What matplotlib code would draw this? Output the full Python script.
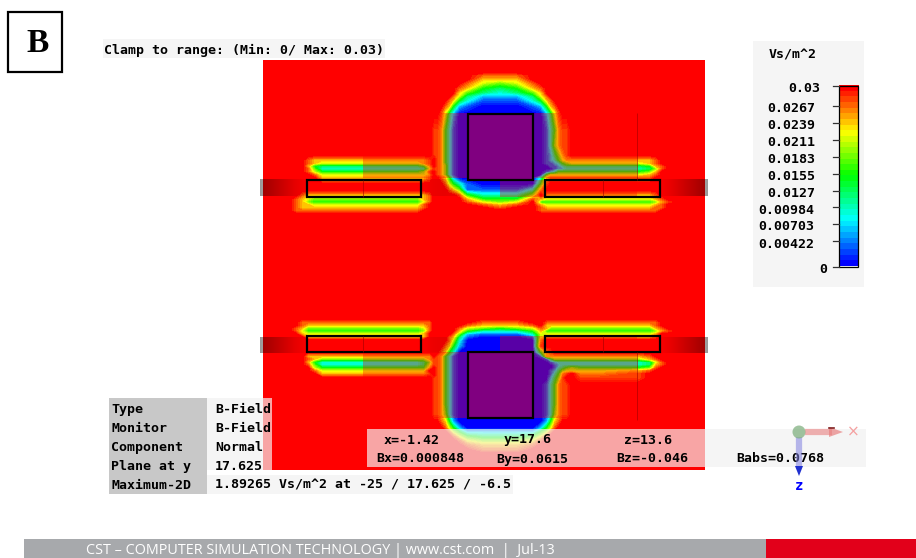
import numpy as np
import matplotlib
matplotlib.use('Agg')
import matplotlib.pyplot as plt
from matplotlib.colors import LinearSegmentedColormap
from matplotlib.patches import Rectangle, Circle, Polygon

MONO = 'DejaVu Sans Mono'

# Field samples, one hex digit per point (a = 0.03 clamp, 0 = 0)
field_x = [290, 296, 302, 308, 314, 322, 363, 405, 418, 424, 430, 434,
           437, 441, 445, 449, 453, 459, 467, 483, 500, 517, 533, 541, 547, 551, 555, 559, 563, 567, 572,
           580, 600, 637, 650, 656, 662, 668, 680]
field_y = [60, 72, 75, 79, 83, 88, 92, 96, 100, 106, 114, 130, 145, 155, 160, 163, 166, 169, 172, 175,
           178, 184, 190, 195, 199, 202, 205, 208, 211, 214, 265,
           318, 322, 325, 328, 331, 334, 337, 340, 346, 352, 356, 359, 362, 365, 368, 371, 374, 378,
           385, 395, 405, 415, 422, 428, 432, 436, 440, 445, 450, 454, 470]
field_rows = [
    'aaaaaaaaaaaa aaaaaaaaaaaaaaaaaaa aaaaaaaa',
    'aaaaaaaaaaaa aaaaaaaaaaaaaaaaaaa aaaaaaaa',
    'aaaaaaaaaaaa aaaaaaa999aaaaaaaaa aaaaaaaa',
    'aaaaaaaaaaaa aaaaaaa888aaaaaaaaa aaaaaaaa',
    'aaaaaaaaaaaa aaaaaa97679aaaaaaaa aaaaaaaa',
    'aaaaaaaaaaaa aaaaa9854589aaaaaaa aaaaaaaa',
    'aaaaaaaaaaaa aaaaa8643468aaaaaaa aaaaaaaa',
    'aaaaaaaaaaaa aaaa974222479aaaaaa aaaaaaaa',
    'aaaaaaaaaaaa aaa98531113589aaaaa aaaaaaaa',
    'aaaaaaaaaaaa aa9852100012589aaaa aaaaaaaa',
    'aaaaaaaaaaaa a974200000002479aaa aaaaaaaa',
    'aaaaaaaaaaa9 98531 0000000 135899a aaaaaaaa',
    'aaaaaaaaaaa9 98531 0000000 136899a aaaaaaaa',
    'aaaaaaaaaaa9 98531 0000000 124689a aaaaaaaa',
    'aaa98888889a 98531 0000000 1235788 88889aaa',
    'aaa98777789a 98531 0000000 1123567 77789aaa',
    'aaa85444458a 98631 0000000 0112344 444589aa',
    'aaa963333379 98631 0000000 0012233 333469aa',
    'aaa97555569a 98631 0000000 1235555 55568aaa',
    'aaaa9777778a 98631 0000000 5777777 77789aaa',
    'aaaaa888889a a9852 000000 38999999 9999aaaa',
    'aaaaaaaaaaaa aa975310000 59aaaaaa aaaaaaaa',
    'aaaaaaaaaaaa aaa98611113 8aaaaaaa aaaaaaaa',
    'aa98888888 9a aaaaa953336 a8888888 88889aaa',
    'a98766666 89a aaaaaa85559 87777777 777789aa',
    'a98655555 79a aaaaaa9767a 55555555 5555689a',
    'a98877777 9aa aaaaaaa989a 87777777 777789aa',
    'a98888888 9aa aaaaaaaa9aa 98888888 888899aa',
    'a99999999aaa aaaaaaaaaaa 99999999 99999aaa',
    'aaaaaaaaaaaa aaaaaaaaaaaaaaaaaaa aaaaaaaa',
    'aaaaaaaaaaaa aaaaaaaaaaaaaaaaaaa aaaaaaaa',
    'aaaaaaaaaaaa aaaaaaaaaaaaaaaaaaa aaaaaaaa',
    'aa999999999a aaaaaaa999aa9999999 99999aaa',
    'aa98888888 9a aaaaaa98889a8888888 88889aaa',
    'a98666666 79a aaaaa97656798666666 666689aa',
    'a97555555 69a aaaaa85333585555555 5555689a',
    'aa8777777 8aa aaaa96211137 7777777 77778aaa',
    'aaa8888888aa aaa98410001 7 8888888 88889aaa',
    'aaaaaaaaaaaa aaa97300000 8 aaaaaaa aaaaaaaa',
    'aaaaaaaaaaaa aa985200000 9 aaaaaaa aaaaaaaa',
    'aaaaaaaaaaaa a98530 00000 589 aaaaa aaaaaaaa',
    'aaa88888888a 98531 000000 1 88 88888 8889aaaa',
    'aaa986666689 98531 0000000 1466666 66689aaa',
    'aaa853333469 98531 0000000 0123333 333479aa',
    'aaa963333479 98531 0000000 0012333 333489aa',
    'aaaa7555558a 98531 0000000 0013456 55569aaa',
    'aaaa977777aa 98531 0000000 0124677 7789aaaa',
    'aaaaa88888 9a 98531 0000000 013589a 889aaaaa',
    'aaaaaaaaaaa9 98531 0000000 02469aa 999aaaaa',
    'aaaaaaaaaaa9 98531 0000000 135899a aaaaaaaa',
    'aaaaaaaaaaa9 98531 0000000 135899a aaaaaaaa',
    'aaaaaaaaaaa9 98531 0000000 135899a aaaaaaaa',
    'aaaaaaaaaaa9 98631 0000000 136899a aaaaaaaa',
    'aaaaaaaaaaaa a9852 0000000 2589aaa aaaaaaaa',
    'aaaaaaaaaaaa aa975 2 00000 2 579 aaaa aaaaaaaa',
    'aaaaaaaaaaaa aaa975 22222 579 aaaaa aaaaaaaa',
    'aaaaaaaaaaaa aaaa975444579aaaaaa aaaaaaaa',
    'aaaaaaaaaaaa aaaaa9766679aaaaaaa aaaaaaaa',
    'aaaaaaaaaaaa aaaaaa98889aaaaaaaa aaaaaaaa',
    'aaaaaaaaaaaa aaaaaaa999aaaaaaaaa aaaaaaaa',
    'aaaaaaaaaaaa aaaaaaaaaaaaaaaaaaa aaaaaaaa',
    'aaaaaaaaaaaa aaaaaaaaaaaaaaaaaaa aaaaaaaa',
]

# Colour bar
bar_ticks = [0.03, 0.0267, 0.0239, 0.0211, 0.0183, 0.0155, 0.0127, 0.00984, 0.00703, 0.00422, 0]
bar_labels = ['0.03', '0.0267', '0.0239', '0.0211', '0.0183', '0.0155', '0.0127',
              '0.00984', '0.00703', '0.00422', '0']
bar_label_right = [820, 815, 815, 815, 815, 815, 815, 814, 814, 814, 827]

# Info block
info_names = ['Type', 'Monitor', 'Component', 'Plane at y', 'Maximum-2D']
info_values = ['B-Field', 'B-Field', 'Normal', '17.625', '1.89265 Vs/m^2 at -25 / 17.625 / -6.5']
probe_top = ['x=-1.42', 'y=17.6', 'z=13.6']
probe_bottom = ['Bx=0.000848', 'By=0.0615', 'Bz=-0.046', 'Babs=0.0768']

# Parts of the model, page pixels: x0, y0, x1, y1
strips = [(307, 180, 421, 197), (545, 180, 660, 197), (307, 336, 421, 352), (545, 336, 660, 352)]
squares = [(467.5, 114, 533, 180), (467.5, 352, 533, 418)]
muted = [(363, 113, 637, 178), (500, 180, 637, 197), (363, 352, 637, 418), (500, 336, 637, 352)]
shade_y = [(179, 196), (337, 353)]
shade_left = [0.40, 0.30, 0.20, 0.10, 0.03]
shade_mid = [0.02, 0.07, 0.09, 0.07, 0.03]
shade_right = [0.03, 0.10, 0.20, 0.30, 0.40]

field = np.array([[int(c, 16) * 0.003 for c in row.replace(' ', '')] for row in field_rows])

rainbow = LinearSegmentedColormap.from_list(
    'cst', [(0, '#0000ff'), (0.25, '#00ffff'), (0.5, '#00ff00'), (0.75, '#ffff00'), (1, '#ff0000')], N=32)

fig = plt.figure(figsize=(9.16, 5.58), dpi=100)
ax = fig.add_axes([0, 0, 1, 1])

# Field
levels = np.linspace(0, 0.03, 33)
levels[-1] = 0.0301
ax.add_patch(Rectangle((263, 60), 442, 410, fc='#ff0000', ec='none', zorder=0))
ax.contourf(field_x, field_y, field, levels=levels, cmap=rainbow, vmin=0, vmax=0.03, zorder=1)

# Dark bands either side of the strips
for y0, y1 in shade_y:
    for x0, x1, shade in [(260, 307, shade_left), (421, 467, shade_mid), (660, 708, shade_right)]:
        fine = np.interp(np.linspace(0, 1, x1 - x0), np.linspace(0, 1, len(shade)), shade)
        ax.imshow(np.zeros((1, x1 - x0)), cmap='gray', vmin=0, vmax=1, alpha=fine.reshape(1, -1),
                  extent=[x0, x1, y1, y0], aspect='auto', interpolation='nearest', zorder=2)

# Muted volumes, lines and outlines
for x0, y0, x1, y1 in muted:
    ax.add_patch(Rectangle((x0, y0), x1 - x0, y1 - y0, fc='#ff0000', ec='none', alpha=0.35, zorder=3))
for x0, y0, x1, y1 in squares:
    ax.add_patch(Rectangle((x0, y0), x1 - x0, y1 - y0, fc='#800080', ec='black', lw=1.6, zorder=4))
for x0, y0, x1, y1 in strips:
    ax.add_patch(Rectangle((x0, y0), x1 - x0, y1 - y0, fc='none', ec='black', lw=1.6, zorder=4))
ax.vlines([637, 637], [113, 352], [180, 420], color='#a00000', lw=0.6, alpha=0.7, zorder=4)
ax.vlines([363, 363, 603, 603], [180, 336, 180, 336], [197, 352, 197, 352],
          color='#a00000', lw=0.6, alpha=0.7, zorder=4)

# Letter box
ax.add_patch(Rectangle((8, 11.5), 54, 60.5, fc='white', ec='black', lw=1.6, zorder=5))
ax.text(38, 43, 'B', family='Liberation Serif', weight='bold', fontsize=24,
        ha='center', va='center', zorder=6)

# Clamp line
ax.add_patch(Rectangle((103, 39), 282, 19, fc='#f5f5f5', ec='none', zorder=5))
ax.text(104, 54, 'Clamp to range: (Min: 0/ Max: 0.03)', family=MONO, weight='bold', fontsize=9.5,
        va='baseline', zorder=6)

# Colour bar panel
ax.add_patch(Rectangle((753, 41), 111, 246, fc='#f5f5f5', ec='none', zorder=5))
ax.text(769, 58, 'Vs/m^2', family=MONO, weight='bold', fontsize=9.5, va='baseline', zorder=6)
ax.imshow(np.linspace(0.03, 0, 32).reshape(-1, 1), cmap=rainbow, vmin=0, vmax=0.03,
          extent=[838.5, 858, 266.5, 86], aspect='auto', interpolation='nearest', zorder=6)
ax.add_patch(Rectangle((838.5, 86), 19.5, 180.5, fc='none', ec='black', lw=0.9, zorder=7))
tick_y = [86, 105.7, 122.7, 139.7, 156.7, 173.7, 190.7, 207, 224, 241, 266.5]
for val, y, label, right in zip(bar_ticks, tick_y, bar_labels, bar_label_right):
    ax.plot([833, 838.5], [y, y], color='#333333', lw=0.9, zorder=7)
    ax.text(right, y + 6.5, label, family=MONO, weight='bold', fontsize=9.5, ha='right', va='baseline', zorder=7)

# Info block
ax.add_patch(Rectangle((109, 398), 98, 96, fc='#c8c8c8', ec='none', zorder=5))
ax.add_patch(Rectangle((207, 398), 56, 72, fc='#f5f5f5', ec='none', zorder=5))
ax.add_patch(Rectangle((263, 398), 9, 72, fc='#f5f5f5', ec='none', alpha=0.68, zorder=5))
ax.add_patch(Rectangle((207, 475), 306, 19, fc='#f5f5f5', ec='none', zorder=5))
info_y = [413, 432, 451, 470, 489]
for y, name, value in zip(info_y, info_names, info_values):
    ax.text(111, y, name, family=MONO, weight='bold', fontsize=9.5, va='baseline', zorder=6)
    ax.text(215, y, value, family=MONO, weight='bold', fontsize=9.5, va='baseline', zorder=6)

# Probe panel
ax.add_patch(Rectangle((367, 429), 338, 38, fc='#f5f5f5', ec='none', alpha=0.68, zorder=5))
ax.add_patch(Rectangle((705, 429), 161, 38, fc='#f5f5f5', ec='none', zorder=5))
for x, label in zip([384, 504, 624], probe_top):
    ax.text(x, 443.5, label, family=MONO, weight='bold', fontsize=9.5, va='baseline', zorder=6)
for x, label in zip([376, 496, 616, 736], probe_bottom):
    ax.text(x, 462.5, label, family=MONO, weight='bold', fontsize=9.5, va='baseline', zorder=6)

# Axis triad
ax.plot([805, 832], [432, 432], color='#e88080', lw=4.5, alpha=0.6, solid_capstyle='butt', zorder=7)
ax.add_patch(Polygon([(829, 427), (843, 432), (829, 437)], fc='#e88080', ec='none', alpha=0.7, zorder=7))
ax.plot([829, 834], [427.5, 427.5], color='#802020', lw=1.2, zorder=8)
ax.text(853, 432, '×', family='DejaVu Sans', fontsize=11, color='#f4a0a0', ha='center', va='center', zorder=7)
ax.plot([799, 799], [437, 467], color='#8080e0', lw=4.5, alpha=0.55, solid_capstyle='butt', zorder=7)
ax.add_patch(Polygon([(795, 466), (803, 466), (799, 476)], fc='#2030d0', ec='none', zorder=7))
ax.add_patch(Circle((799, 432), 6.5, fc='#80b080', ec='none', alpha=0.75, zorder=8))
ax.text(799, 486, 'z', family=MONO, weight='bold', fontsize=10, color='#0000ff',
        ha='center', va='center', zorder=7)

# Footer
ax.add_patch(Rectangle((24, 539), 742, 19, fc='#a7a9ac', ec='none', zorder=5))
ax.add_patch(Rectangle((766, 539), 150, 19, fc='#e2001a', ec='none', zorder=5))
ax.text(86, 551, 'CST – COMPUTER SIMULATION TECHNOLOGY | www.cst.com  |  Jul-13', family='Open Sans',
        fontsize=10.4, color='white', va='center', zorder=6)

ax.set_xlim(0, 916)
ax.set_ylim(558, 0)
ax.axis('off')
fig.savefig('out.png', dpi=100)
